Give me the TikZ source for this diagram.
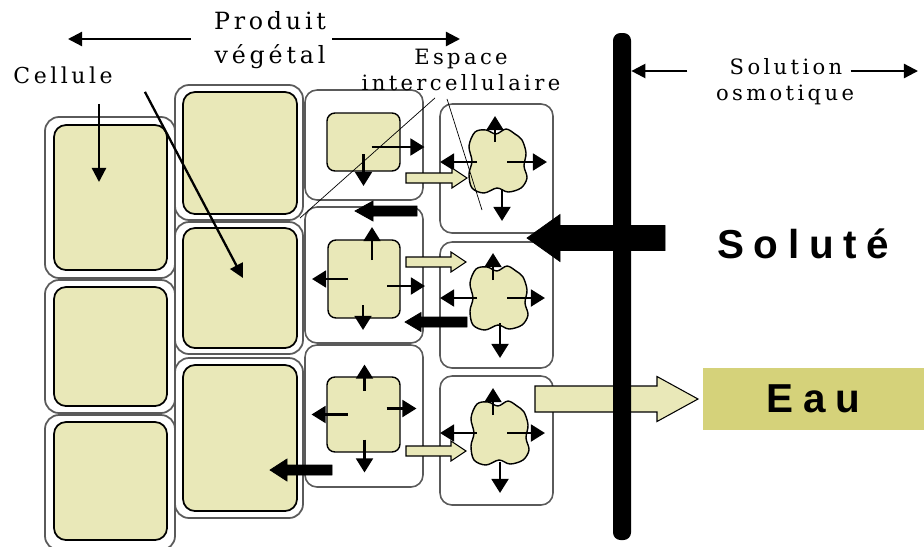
\documentclass[tikz,border=0pt]{standalone}
\usepackage{fontspec}
\setmainfont{DejaVu Serif}
\newfontfamily\labelfont{DejaVu Serif}[LetterSpace=16]
\newfontfamily\bigfont{Liberation Sans}[LetterSpace=24]
\usetikzlibrary{fit,arrows.meta,positioning}

\definecolor{cytofill}{RGB}{233,232,184}
\definecolor{eaufill}{RGB}{213,210,122}
\definecolor{wallgray}{RGB}{90,90,90}

% block arrow: style, tail x, tip x, y, half shaft, half head, head length
\newcommand{\blockarrow}[7]{%
  \draw[#1] (#2,{#4-#5}) -- ({#3-(#7)},{#4-#5}) -- ({#3-(#7)},{#4-#6})
    -- (#3,#4) -- ({#3-(#7)},{#4+#6}) -- ({#3-(#7)},{#4+#5}) -- (#2,{#4+#5}) -- cycle;}

% shrunk cytoplasm of an outer cell: name, centre x, centre y
\newcommand{\blob}[3]{%
  \coordinate (#1) at (#2,#3);
  \draw[blobline, shift={(#2,#3)}] plot[smooth cycle, tension=0.55] coordinates {
    (-23,-29) (-12,-31) (-2,-27) (8,-32) (17,-27) (24,-21) (28,-8) (26,5)
    (29,17) (23,27) (10,31) (-1,27) (-14,32) (-26,27) (-29,13) (-26,0) (-29,-15)};}

\tikzset{
  wall/.style={draw=wallgray, line width=1pt, rounded corners=2.8mm, inner sep=0pt},
  cyto/.style={draw=black, line width=1pt, fill=cytofill, rounded corners=2.4mm, inner sep=0pt},
  space/.style={draw=wallgray, line width=0.9pt, rounded corners=2.4mm, inner sep=0pt},
  vac/.style={draw=black, line width=0.8pt, fill=cytofill, rounded corners=1.6mm, inner sep=0pt},
  blobline/.style={draw=black, line width=0.8pt, fill=cytofill},
  arr/.style={-{Triangle[width=9.5pt,length=8pt]}, line width=1.6pt},
  pointer/.style={-{Triangle[width=8pt,length=8pt]}, line width=1.3pt},
  solid/.style={fill=black, draw=black},
  pale/.style={fill=cytofill, draw=black, line width=0.6pt},
  lbl/.style={font=\labelfont\fontsize{12}{15}\selectfont, inner sep=0pt, align=center},
  big/.style={font=\bigfont\bfseries\fontsize{23}{26}\selectfont},
}

\begin{document}
\begin{tikzpicture}[x=0.2mm, y=-0.2mm]
 \useasboundingbox (0,0) rectangle (924,546);

 % left row of cells
 \node[wall, fit={(45,117) (175,278)}] (w1) {};
 \node[cyto, fit={(54,125) (167,270)}] (c1) {};
 \node[wall, fit={(45,280) (175,413)}] (w2) {};
 \node[cyto, fit={(54,287) (167,406)}] (c2) {};
 \node[wall, fit={(45,415) (175,550)}] (w3) {};
 \node[cyto, fit={(54,422) (167,540)}] (c3) {};

 % second row of cells
 \node[wall, fit={(175,85) (303,220)}] (w4) {};
 \node[cyto, fit={(183,92) (297,214)}] (c4) {};
 \node[wall, fit={(175,222) (303,354)}] (w5) {};
 \node[cyto, fit={(183,228) (297,348)}] (c5) {};
 \node[wall, fit={(175,358) (303,518)}] (w6) {};
 \node[cyto, fit={(183,365) (297,511)}] (c6) {};

 % plasmolysed cells
 \node[space, fit={(305,90) (423,200)}] (s1) {};
 \node[vac, fit={(327,113) (400,171)}] (v1) {};
 \node[space, fit={(305,207) (423,343)}] (s2) {};
 \node[vac, fit={(328,240) (400,318)}] (v2) {};
 \node[space, fit={(305,345) (423,487)}] (s3) {};
 \node[vac, fit={(327,377) (400,452)}] (v3) {};

 % outer cells
 \node[space, fit={(440,104) (553,233)}] (s4) {};
 \node[space, fit={(440,242) (553,368)}] (s5) {};
 \node[space, fit={(440,376) (553,505)}] (s6) {};
 \blob{bA}{498}{161}
 \blob{bB}{499}{298}
 \blob{bC}{500}{433}

 % water leaving the cells
 \draw[arr] ([shift={(8,5)}]v1.center) -- ++(53,0);
 \draw[arr] ([shift={(0,12)}]v1.center) -- ++(0,32);
 \draw[arr] ([shift={(8,-19)}]v2.center) -- ++(0,-33);
 \draw[arr] ([shift={(-16,0)}]v2.center) -- ++(-36,0);
 \draw[arr] ([shift={(23,7)}]v2.center) -- ++(38,0);
 \draw[arr] ([shift={(-1,26)}]v2.center) -- ++(0,25);
 \draw[arr] ([shift={(1,-24)}]v3.center) -- ++(0,-26);
 \draw[arr] ([shift={(-16,0)}]v3.center) -- ++(-36,0);
 \draw[arr] ([shift={(23,-6)}]v3.center) -- ++(30,0);
 \draw[arr] ([shift={(1,25)}]v3.center) -- ++(0,33);

 \draw[arr] ([shift={(-3,-19)}]bA) -- ++(0,-26);
 \draw[arr] ([shift={(-21,1)}]bA) -- ++(-37,0);
 \draw[arr] ([shift={(9,1)}]bA) -- ++(40,0);
 \draw[arr] ([shift={(4,28)}]bA) -- ++(0,32);
 \draw[arr] ([shift={(-6,-18)}]bB) -- ++(0,-27);
 \draw[arr] ([shift={(-22,0)}]bB) -- ++(-37,0);
 \draw[arr] ([shift={(8,0)}]bB) -- ++(38,0);
 \draw[arr] ([shift={(1,25)}]bB) -- ++(0,35);
 \draw[arr] ([shift={(-7,-18)}]bC) -- ++(0,-27);
 \draw[arr] ([shift={(-23,0)}]bC) -- ++(-37,0);
 \draw[arr] ([shift={(7,0)}]bC) -- ++(38,0);
 \draw[arr] ([shift={(0,29)}]bC) -- ++(0,31);

 % water and solute between cells
 \blockarrow{pale}{406}{467}{178}{5}{10}{15}
 \blockarrow{pale}{406}{466}{262}{5}{10}{15}
 \blockarrow{pale}{406}{466}{451}{5}{10}{15}
 \blockarrow{solid}{417}{355}{211}{5}{10}{-18}
 \blockarrow{solid}{467}{405}{322}{5}{9.5}{-16}
 \blockarrow{solid}{332}{270}{470}{5}{11}{-17}

 % exchange through the membrane
 \blockarrow{pale}{535}{698}{399}{13}{22.5}{41}
 \node[fill=black, rounded corners=1.5mm, inner sep=0pt, fit={(613,33) (631,540)}] (membrane) {};
 \blockarrow{solid}{665}{527}{238}{12.5}{23.5}{-33}

 \node[big, fill=eaufill, minimum width=44.2mm, minimum height=12.4mm] (eau) at (813.5,399) {Eau};
 \node[big, anchor=base west, inner sep=0pt] (solute) at (717,258) {Soluté};

 % labels
 \node[lbl, font=\labelfont\fontsize{13.5}{19}\selectfont] (produit) at (270,40) {Produit\\végétal};
 \node[lbl, font=\labelfont\fontsize{12.5}{15}\selectfont] (cellule) at (63,75) {Cellule};
 \node[lbl, font=\labelfont\fontsize{12}{14.5}\selectfont] (espace) at (461,70) {Espace\\intercellulaire};
 \node[lbl] (solution) at (786,67) {Solution};
 \node[lbl] (osmo) at (785,95) {osmotique};

 \coordinate (prodL) at (68,39);
 \coordinate (prodR) at (460,39);
 \coordinate (cellTip) at (99,182);
 \coordinate (vegTip) at (243,278);
 \coordinate (espL) at (300,218);
 \coordinate (espR) at (482,210);
 \coordinate (solR) at (918,71);

 \draw[pointer, shorten <=4.6mm] (prodL -| produit.west) -- (prodL);
 \draw[pointer, shorten <=1.2mm] (prodR -| produit.east) -- (prodR);
 \draw[pointer, shorten <=4mm] (cellTip |- cellule.south) -- (cellTip);
 \draw[pointer] ([shift={(32,8)}]cellule.south east) -- (vegTip);
 \draw[thin] ([shift={(-26,7)}]espace.south) -- (espL);
 \draw[thin] ([shift={(-14,8)}]espace.south) -- (espR);
 \draw[pointer, shorten <=8.4mm] (solR -| solution.west) -- (solR -| membrane.east);
 \draw[pointer, shorten <=1.6mm] (solR -| solution.east) -- (solR);
\end{tikzpicture}
\end{document}
